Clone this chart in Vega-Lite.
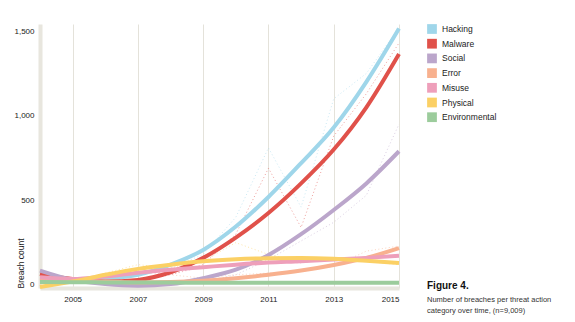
{
  "$schema": "https://vega.github.io/schema/vega-lite/v6.json",
  "autosize": "none",
  "width": 359,
  "height": 264,
  "padding": {"left": 40, "top": 24, "right": 176, "bottom": 34},
  "background": "white",
  "config": {
    "font": "Liberation Sans",
    "view": {"stroke": null},
    "title": {"font": "Liberation Sans"}
  },
  "title": {
    "text": "Figure 4.",
    "subtitle": ["Number of breaches per threat action", "category over time, (n=9,009)"],
    "orient": "bottom",
    "anchor": "start",
    "frame": "group",
    "dx": 387,
    "dy": -26,
    "fontSize": 10,
    "fontWeight": "bold",
    "color": "#111",
    "subtitleFontSize": 7.5,
    "subtitleColor": "#333",
    "subtitlePadding": 5,
    "subtitleLineHeight": 11
  },
  "datasets": {
    "trend": [
      {"year": 2004, "type": "Hacking", "count": 32}, {"year": 2005, "type": "Hacking", "count": 25}, {"year": 2006, "type": "Hacking", "count": 35}, {"year": 2007, "type": "Hacking", "count": 60}, {"year": 2008, "type": "Hacking", "count": 120}, {"year": 2009, "type": "Hacking", "count": 207}, {"year": 2010, "type": "Hacking", "count": 345}, {"year": 2011, "type": "Hacking", "count": 520}, {"year": 2012, "type": "Hacking", "count": 720}, {"year": 2013, "type": "Hacking", "count": 930}, {"year": 2014, "type": "Hacking", "count": 1200}, {"year": 2015, "type": "Hacking", "count": 1515},
      {"year": 2004, "type": "Malware", "count": 65}, {"year": 2005, "type": "Malware", "count": 35}, {"year": 2006, "type": "Malware", "count": 20}, {"year": 2007, "type": "Malware", "count": 30}, {"year": 2008, "type": "Malware", "count": 75}, {"year": 2009, "type": "Malware", "count": 160}, {"year": 2010, "type": "Malware", "count": 280}, {"year": 2011, "type": "Malware", "count": 425}, {"year": 2012, "type": "Malware", "count": 600}, {"year": 2013, "type": "Malware", "count": 800}, {"year": 2014, "type": "Malware", "count": 1050}, {"year": 2015, "type": "Malware", "count": 1365},
      {"year": 2004, "type": "Social", "count": 85}, {"year": 2005, "type": "Social", "count": 30}, {"year": 2006, "type": "Social", "count": 5}, {"year": 2007, "type": "Social", "count": -5}, {"year": 2008, "type": "Social", "count": 5}, {"year": 2009, "type": "Social", "count": 40}, {"year": 2010, "type": "Social", "count": 90}, {"year": 2011, "type": "Social", "count": 177}, {"year": 2012, "type": "Social", "count": 300}, {"year": 2013, "type": "Social", "count": 443}, {"year": 2014, "type": "Social", "count": 600}, {"year": 2015, "type": "Social", "count": 790},
      {"year": 2004, "type": "Error", "count": 40}, {"year": 2005, "type": "Error", "count": 30}, {"year": 2006, "type": "Error", "count": 20}, {"year": 2007, "type": "Error", "count": 15}, {"year": 2008, "type": "Error", "count": 17}, {"year": 2009, "type": "Error", "count": 25}, {"year": 2010, "type": "Error", "count": 40}, {"year": 2011, "type": "Error", "count": 60}, {"year": 2012, "type": "Error", "count": 85}, {"year": 2013, "type": "Error", "count": 118}, {"year": 2014, "type": "Error", "count": 160}, {"year": 2015, "type": "Error", "count": 218},
      {"year": 2004, "type": "Misuse", "count": 45}, {"year": 2005, "type": "Misuse", "count": 35}, {"year": 2006, "type": "Misuse", "count": 50}, {"year": 2007, "type": "Misuse", "count": 72}, {"year": 2008, "type": "Misuse", "count": 90}, {"year": 2009, "type": "Misuse", "count": 105}, {"year": 2010, "type": "Misuse", "count": 120}, {"year": 2011, "type": "Misuse", "count": 132}, {"year": 2012, "type": "Misuse", "count": 140}, {"year": 2013, "type": "Misuse", "count": 150}, {"year": 2014, "type": "Misuse", "count": 160}, {"year": 2015, "type": "Misuse", "count": 172},
      {"year": 2004, "type": "Physical", "count": -12}, {"year": 2005, "type": "Physical", "count": 20}, {"year": 2006, "type": "Physical", "count": 60}, {"year": 2007, "type": "Physical", "count": 95}, {"year": 2008, "type": "Physical", "count": 120}, {"year": 2009, "type": "Physical", "count": 140}, {"year": 2010, "type": "Physical", "count": 152}, {"year": 2011, "type": "Physical", "count": 158}, {"year": 2012, "type": "Physical", "count": 160}, {"year": 2013, "type": "Physical", "count": 155}, {"year": 2014, "type": "Physical", "count": 143}, {"year": 2015, "type": "Physical", "count": 130},
      {"year": 2004, "type": "Environmental", "count": 18}, {"year": 2005, "type": "Environmental", "count": 16}, {"year": 2006, "type": "Environmental", "count": 15}, {"year": 2007, "type": "Environmental", "count": 14}, {"year": 2008, "type": "Environmental", "count": 14}, {"year": 2009, "type": "Environmental", "count": 13}, {"year": 2010, "type": "Environmental", "count": 13}, {"year": 2011, "type": "Environmental", "count": 13}, {"year": 2012, "type": "Environmental", "count": 13}, {"year": 2013, "type": "Environmental", "count": 13}, {"year": 2014, "type": "Environmental", "count": 13}, {"year": 2015, "type": "Environmental", "count": 13}
    ],
    "raw": [
      {"year": 2004, "type": "Hacking", "count": 35}, {"year": 2005, "type": "Hacking", "count": 15}, {"year": 2006, "type": "Hacking", "count": 25}, {"year": 2007, "type": "Hacking", "count": 55}, {"year": 2008, "type": "Hacking", "count": 100}, {"year": 2009, "type": "Hacking", "count": 180}, {"year": 2010, "type": "Hacking", "count": 400}, {"year": 2011, "type": "Hacking", "count": 810}, {"year": 2012, "type": "Hacking", "count": 460}, {"year": 2013, "type": "Hacking", "count": 1100}, {"year": 2014, "type": "Hacking", "count": 1250}, {"year": 2015, "type": "Hacking", "count": 1520},
      {"year": 2004, "type": "Malware", "count": 60}, {"year": 2005, "type": "Malware", "count": 30}, {"year": 2006, "type": "Malware", "count": 15}, {"year": 2007, "type": "Malware", "count": 25}, {"year": 2008, "type": "Malware", "count": 60}, {"year": 2009, "type": "Malware", "count": 120}, {"year": 2010, "type": "Malware", "count": 300}, {"year": 2011, "type": "Malware", "count": 690}, {"year": 2012, "type": "Malware", "count": 340}, {"year": 2013, "type": "Malware", "count": 880}, {"year": 2014, "type": "Malware", "count": 1130}, {"year": 2015, "type": "Malware", "count": 1430},
      {"year": 2004, "type": "Social", "count": 90}, {"year": 2005, "type": "Social", "count": 20}, {"year": 2006, "type": "Social", "count": 5}, {"year": 2007, "type": "Social", "count": 0}, {"year": 2008, "type": "Social", "count": 5}, {"year": 2009, "type": "Social", "count": 20}, {"year": 2010, "type": "Social", "count": 60}, {"year": 2011, "type": "Social", "count": 150}, {"year": 2012, "type": "Social", "count": 260}, {"year": 2013, "type": "Social", "count": 370}, {"year": 2014, "type": "Social", "count": 530}, {"year": 2015, "type": "Social", "count": 950},
      {"year": 2004, "type": "Error", "count": 30}, {"year": 2005, "type": "Error", "count": 20}, {"year": 2006, "type": "Error", "count": 15}, {"year": 2007, "type": "Error", "count": 100}, {"year": 2008, "type": "Error", "count": 60}, {"year": 2009, "type": "Error", "count": 40}, {"year": 2010, "type": "Error", "count": 60}, {"year": 2011, "type": "Error", "count": 70}, {"year": 2012, "type": "Error", "count": 80}, {"year": 2013, "type": "Error", "count": 110}, {"year": 2014, "type": "Error", "count": 200}, {"year": 2015, "type": "Error", "count": 230},
      {"year": 2004, "type": "Misuse", "count": 50}, {"year": 2005, "type": "Misuse", "count": 30}, {"year": 2006, "type": "Misuse", "count": 60}, {"year": 2007, "type": "Misuse", "count": 80}, {"year": 2008, "type": "Misuse", "count": 60}, {"year": 2009, "type": "Misuse", "count": 110}, {"year": 2010, "type": "Misuse", "count": 110}, {"year": 2011, "type": "Misuse", "count": 140}, {"year": 2012, "type": "Misuse", "count": 130}, {"year": 2013, "type": "Misuse", "count": 160}, {"year": 2014, "type": "Misuse", "count": 160}, {"year": 2015, "type": "Misuse", "count": 175},
      {"year": 2004, "type": "Physical", "count": 0}, {"year": 2005, "type": "Physical", "count": 20}, {"year": 2006, "type": "Physical", "count": 70}, {"year": 2007, "type": "Physical", "count": 120}, {"year": 2008, "type": "Physical", "count": 100}, {"year": 2009, "type": "Physical", "count": 140}, {"year": 2010, "type": "Physical", "count": 250}, {"year": 2011, "type": "Physical", "count": 180}, {"year": 2012, "type": "Physical", "count": 140}, {"year": 2013, "type": "Physical", "count": 160}, {"year": 2014, "type": "Physical", "count": 140}, {"year": 2015, "type": "Physical", "count": 120},
      {"year": 2004, "type": "Environmental", "count": 20}, {"year": 2005, "type": "Environmental", "count": 15}, {"year": 2006, "type": "Environmental", "count": 15}, {"year": 2007, "type": "Environmental", "count": 12}, {"year": 2008, "type": "Environmental", "count": 15}, {"year": 2009, "type": "Environmental", "count": 12}, {"year": 2010, "type": "Environmental", "count": 14}, {"year": 2011, "type": "Environmental", "count": 13}, {"year": 2012, "type": "Environmental", "count": 12}, {"year": 2013, "type": "Environmental", "count": 14}, {"year": 2014, "type": "Environmental", "count": 12}, {"year": 2015, "type": "Environmental", "count": 13}
    ]
  },
  "encoding": {
    "x": {
      "field": "year", "type": "quantitative",
      "scale": {"domain": [2004, 2015], "nice": false, "zero": false},
      "axis": {
        "values": [2005, 2007, 2009, 2011, 2013, 2015], "format": "d", "title": null,
        "grid": true, "gridColor": "#e4e2da", "gridWidth": 1,
        "ticks": false, "domainColor": "#e8e6de", "domainWidth": 4,
        "labelFontSize": 8, "labelColor": "#222", "labelPadding": 7
      }
    },
    "y": {
      "field": "count", "type": "quantitative",
      "scale": {"domain": [-18, 1542], "nice": false, "zero": false},
      "axis": {
        "values": [0, 500, 1000, 1500], "format": ",.0f", "title": "Breach count",
        "grid": false, "ticks": false, "domainColor": "#e8e6de", "domainWidth": 4,
        "labelFontSize": 8, "labelColor": "#222", "labelPadding": 6,
        "titleFontSize": 8.5, "titleFontWeight": "normal", "titleColor": "#222",
        "titleX": -20, "titleY": 264, "titleAngle": 270, "titleAlign": "left", "titleBaseline": "middle"
      }
    },
    "color": {
      "field": "type", "type": "nominal",
      "scale": {
        "domain": ["Hacking", "Malware", "Social", "Error", "Misuse", "Physical", "Environmental"],
        "range": ["#9fd6ea", "#e0514a", "#bba6cb", "#f8b18f", "#ee9fba", "#fbd065", "#9ccc9c"]
      },
      "legend": {
        "title": null, "orient": "right", "offset": 20, "padding": 0,
        "symbolType": "square", "symbolSize": 95, "symbolOpacity": 1,
        "labelFontSize": 8.5, "labelColor": "#222", "labelOffset": 5, "rowPadding": 4.7,
        "encode": {
          "symbols": {
            "update": {
              "fill": {"scale": "color", "field": "value"},
              "strokeWidth": {"value": 0}
            }
          }
        }
      }
    }
  },
  "layer": [
    {
      "data": {"name": "raw"},
      "mark": {"type": "line", "strokeWidth": 1, "strokeDash": [1, 2.5], "opacity": 0.55},
      "encoding": {"detail": {"field": "type"}}
    },
    {
      "data": {"name": "trend"},
      "mark": {"type": "line", "strokeWidth": 4, "interpolate": "monotone", "strokeCap": "butt"},
      "encoding": {"order": {"field": "year"}}
    }
  ]
}
